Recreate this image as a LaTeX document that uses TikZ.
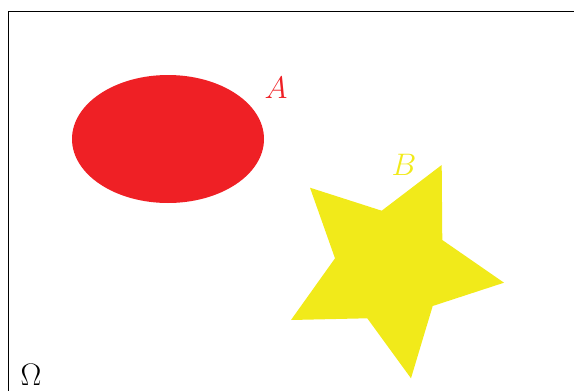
\documentclass[tikz,border=0pt]{standalone}
\usepackage{graphicx}
\begin{document}
\begin{tikzpicture}[x=1pt,y=-1pt,
  lbl/.style={font=\huge, inner sep=0pt}]
\definecolor{setred}{HTML}{EF2025}
\definecolor{setyellow}{HTML}{F1EA1A}
\useasboundingbox (0,0) rectangle (574,391);
\clip (0,0) rectangle (574,391);
\draw[line width=0.9pt] (8,11.5) -- (600,11.5);
\draw[line width=0.9pt] (8,11.5) -- (8,420);
\fill[setred] (168,139) ellipse [x radius=96, y radius=64];
\fill[setyellow] (310,187.7) -- (381.7,210.7) -- (441.7,165) -- (442.3,240) -- (504,282.7)
  -- (432.7,306) -- (411,378.3) -- (367.3,318.3) -- (291,320) -- (335,258.3) -- cycle;
\node[lbl, text=setred] (A) at (276,88) {\scalebox{1.5}{$A$}};
\node[lbl, text=setyellow] (B) at (404,165) {\scalebox{1.5}{$B$}};
\node[lbl] (Omega) at (31,375) {\scalebox{1.5}{$\Omega$}};
\end{tikzpicture}
\end{document}
